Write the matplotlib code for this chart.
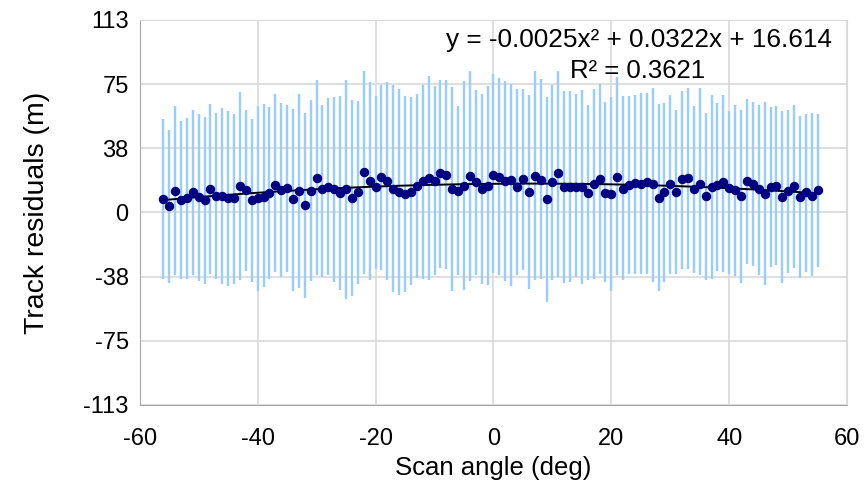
import numpy as np
import matplotlib.pyplot as plt

plt.rcParams['font.family'] = ['Liberation Sans', 'DejaVu Sans']
plt.rcParams['axes.unicode_minus'] = False

# scan angle (deg), one point per degree
scan_angle = np.arange(-56, 56)

# mean track residual at each angle (m)
residual = [
    7.8, 3.5, 12.7, 7.2, 8.2, 11.7, 9.1, 7.2, 13.6, 9.5, 9.5, 8.2, 8.2, 15.4,
    13.1, 7.2, 8.2, 9.1, 11.1, 16.0, 13.1, 14.4, 7.6, 12.7, 4.1, 12.7, 20.3, 13.4,
    14.6, 13.4, 11.5, 13.6, 8.6, 11.7, 23.4, 18.3, 14.6, 20.5, 18.3, 13.6, 12.1, 10.7,
    12.1, 15.4, 18.3, 20.3, 18.3, 22.8, 21.9, 13.6, 12.7, 15.6, 21.5, 17.6, 13.6, 15.6,
    22.0, 20.9, 18.5, 18.9, 14.6, 19.3, 12.1, 21.5, 18.9, 7.6, 17.6, 22.8, 15.0, 15.0,
    15.0, 14.6, 11.5, 16.4, 19.5, 11.1, 10.7, 20.9, 13.6, 16.0, 17.0, 16.4, 17.9, 16.6,
    8.6, 12.1, 16.6, 12.1, 19.3, 20.3, 13.6, 16.4, 9.5, 15.0, 16.0, 17.6, 14.0, 13.1,
    9.5, 18.3, 16.6, 13.6, 10.7, 14.6, 15.6, 8.8, 12.5, 15.4, 8.8, 11.7, 9.7, 13.1,
]

# upper end of each bar (m)
bar_top = [
    54.5, 47.9, 62.0, 53.2, 55.1, 59.6, 57.7, 55.5, 63.2, 58.1, 61.0, 59.4, 57.5, 70.2,
    60.0, 54.5, 62.4, 63.5, 61.6, 69.4, 63.9, 62.6, 60.4, 69.4, 58.1, 65.5, 77.6, 62.6,
    66.9, 67.5, 68.2, 77.6, 65.9, 65.3, 82.5, 76.1, 67.9, 74.7, 76.1, 74.3, 72.4, 68.2,
    67.3, 69.4, 74.7, 79.6, 73.7, 77.6, 77.2, 73.3, 62.4, 76.7, 82.9, 71.8, 69.4, 73.7,
    80.6, 78.6, 76.7, 75.1, 72.4, 72.4, 68.8, 82.5, 78.0, 67.5, 74.3, 82.5, 71.2, 71.2,
    69.4, 71.4, 63.0, 72.2, 75.1, 64.5, 67.3, 79.0, 67.9, 67.9, 68.8, 69.8, 69.8, 72.7,
    63.5, 63.9, 68.8, 60.0, 71.2, 72.7, 62.4, 72.7, 58.1, 68.4, 63.9, 68.4, 59.0, 63.0,
    60.0, 66.5, 64.5, 63.0, 64.5, 61.4, 62.0, 59.0, 59.6, 62.6, 56.1, 57.5, 58.1, 57.7,
]

# lower end of each bar (m)
bar_bottom = [
    -38.8, -41.2, -36.5, -39.2, -39.2, -36.5, -40.2, -41.7, -36.3, -39.2, -41.7, -43.1, -41.7, -39.8,
    -34.5, -40.8, -46.2, -43.7, -39.2, -34.9, -37.8, -34.9, -45.7, -44.3, -50.2, -40.4, -36.8, -37.8,
    -36.8, -40.8, -45.3, -50.9, -48.6, -41.7, -35.9, -39.8, -32.9, -33.9, -39.8, -46.6, -48.2, -46.6,
    -42.3, -38.4, -38.8, -39.8, -36.8, -32.5, -33.3, -46.2, -36.8, -45.3, -40.4, -36.8, -41.7, -42.7,
    -35.7, -36.8, -40.4, -43.1, -36.8, -33.9, -44.7, -39.8, -39.2, -52.5, -39.8, -37.8, -41.2, -40.8,
    -37.8, -41.7, -39.4, -39.2, -36.3, -40.8, -46.2, -36.8, -39.8, -35.9, -36.3, -35.9, -36.3, -40.8,
    -46.2, -40.8, -35.9, -36.3, -32.9, -32.9, -35.3, -36.8, -39.8, -38.8, -34.3, -34.9, -36.3, -37.2,
    -41.2, -30.0, -31.4, -36.5, -42.3, -32.0, -31.0, -41.2, -35.3, -32.3, -38.4, -34.9, -37.2, -32.0,
]

y_ticks = [-112.5, -75, -37.5, 0, 37.5, 75, 112.5]
y_tick_labels = ['-113', '-75', '-38', '0', '38', '75', '113']
x_ticks = [-60, -40, -20, 0, 20, 40, 60]

equation_text = 'y = -0.0025x² + 0.0322x + 16.614'
r2_text = 'R² = 0.3621'

res = np.array(residual)
yerr = [res - np.array(bar_bottom), np.array(bar_top) - res]

fig = plt.figure(figsize=(8.68, 4.86), dpi=100)
ax = fig.add_axes([0.161, 0.167, 0.815, 0.792])

ax.errorbar(scan_angle, res, yerr=yerr, fmt='none', ecolor='#99CCFF',
            elinewidth=1.7, capsize=0, zorder=2)

# 2nd order polynomial trendline
coef = np.polyfit(scan_angle, res, 2)
xx = np.linspace(scan_angle.min(), scan_angle.max(), 200)
ax.plot(xx, np.polyval(coef, xx), color='black', linewidth=1.4, zorder=3)

ax.plot(scan_angle, res, 'o', color='#000080', markersize=5.8, zorder=4)

ax.set_xlim(-60, 60)
ax.set_ylim(-112.5, 112.5)
ax.set_xticks(x_ticks)
ax.set_yticks(y_ticks)
ax.set_yticklabels(y_tick_labels)
ax.tick_params(labelsize=17, length=0)
ax.tick_params(axis='y', pad=8)
ax.tick_params(axis='x', pad=17)
ax.grid(True, color='#D9D9D9', linewidth=1.2)
ax.set_axisbelow(True)
for s in ax.spines.values():
    s.set_color('#D9D9D9')
ax.spines['left'].set_color('#A6A6A6')
ax.spines['bottom'].set_color('#A6A6A6')

ax.set_xlabel('Scan angle (deg)', fontsize=18.5, labelpad=4)
ax.set_ylabel('Track residuals (m)', fontsize=20.5, labelpad=24)

ax.text(0.979, 0.948, equation_text, transform=ax.transAxes, ha='right',
        va='center', fontsize=18.8)
ax.text(0.703, 0.867, r2_text, transform=ax.transAxes, ha='center',
        va='center', fontsize=18.5)

fig.savefig('out.png', dpi=100)
